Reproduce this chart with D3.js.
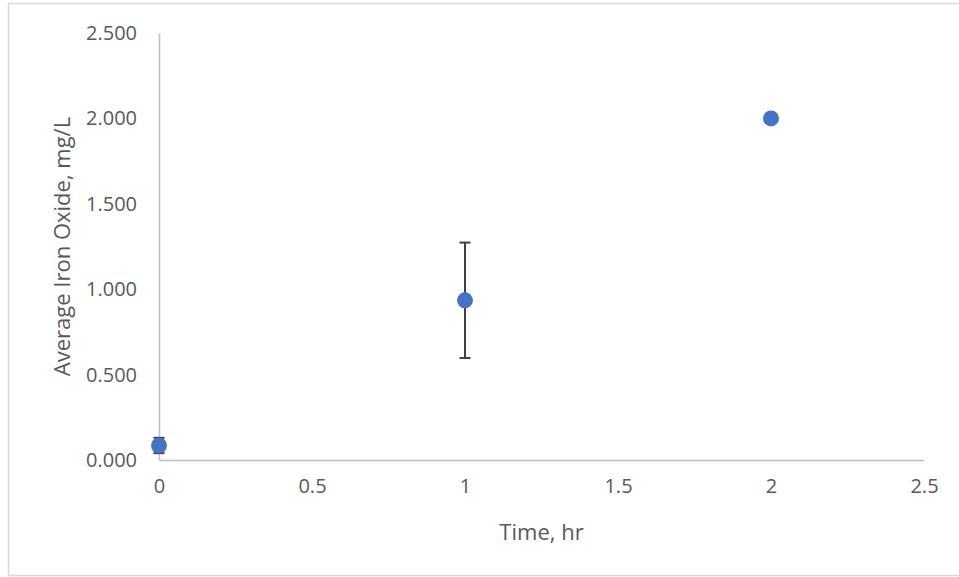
<!DOCTYPE html>
<html>
<head>
<meta charset="utf-8">
<script src="https://cdn.jsdelivr.net/npm/d3@7"></script>
<style>
  body { margin: 0; background: #fff; }
  text { font-family: "Open Sans", sans-serif; fill: #595959; }
</style>
</head>
<body>
<div id="vis"></div>
<script>
// data
const times = [0, 1, 2];
const ironOxide = [0.085, 0.935, 2.0];
const errors = [0.045, 0.338, 0];
const xTicks = [0, 0.5, 1, 1.5, 2, 2.5];
const yTicks = [0, 0.5, 1, 1.5, 2, 2.5];

const width = 959, height = 577;
const margin = { top: 33, right: 35, bottom: 117, left: 159 };

const svg = d3.select("#vis").append("svg")
  .attr("width", width)
  .attr("height", height);

// chart frame
svg.append("rect")
  .attr("x", 8.5).attr("y", 3.5)
  .attr("width", 970).attr("height", 572)
  .attr("fill", "none")
  .attr("stroke", "#d9d9d9")
  .attr("stroke-width", 1.5);

const x = d3.scaleLinear().domain([0, 2.5]).range([margin.left, width - margin.right]);
const y = d3.scaleLinear().domain([0, 2.5]).range([height - margin.bottom, margin.top]);

// x axis
const xAxis = svg.append("g")
  .attr("transform", `translate(0,${y(0)})`)
  .call(d3.axisBottom(x).tickValues(xTicks).tickSize(0).tickPadding(19).tickFormat(d3.format("")));
xAxis.select(".domain").attr("stroke", "#bfbfbf").attr("stroke-width", 1.5);
xAxis.selectAll("text").style("font-size", "20px").attr("fill", "#595959");

// y axis
const yAxis = svg.append("g")
  .attr("transform", `translate(${x(0)},0)`)
  .call(d3.axisLeft(y).tickValues(yTicks).tickSize(0).tickPadding(22).tickFormat(d3.format(".3f")));
yAxis.select(".domain").attr("stroke", "#bfbfbf").attr("stroke-width", 1.5);
yAxis.selectAll("text").style("font-size", "20px").attr("fill", "#595959");

// axis titles
svg.append("text")
  .attr("x", (x(0) + x(2.5)) / 2)
  .attr("y", 540)
  .attr("text-anchor", "middle")
  .style("font-size", "22px")
  .text("Time, hr");

svg.append("text")
  .attr("transform", `translate(70,${(y(0) + y(2.5)) / 2}) rotate(-90)`)
  .attr("text-anchor", "middle")
  .style("font-size", "22px")
  .text("Average Iron Oxide, mg/L");

const pts = times.map((t, i) => ({ t, v: ironOxide[i], e: errors[i] }));

// error bars (caps are narrow, mostly hidden by the marker at t = 0)
const eb = svg.append("g").attr("stroke", "#404040").attr("stroke-width", 2);
pts.filter((d) => d.e > 0).forEach((d) => {
  eb.append("line")
    .attr("x1", x(d.t)).attr("x2", x(d.t))
    .attr("y1", y(d.v + d.e)).attr("y2", y(d.v - d.e));
  [d.v + d.e, d.v - d.e].forEach((v) => {
    eb.append("line")
      .attr("x1", x(d.t) - 5.5).attr("x2", x(d.t) + 5.5)
      .attr("y1", y(v)).attr("y2", y(v));
  });
});

// points
svg.append("g")
  .selectAll("circle")
  .data(pts)
  .join("circle")
  .attr("cx", (d) => x(d.t))
  .attr("cy", (d) => y(d.v))
  .attr("r", 8)
  .attr("fill", "#4472c4");
</script>
</body>
</html>
